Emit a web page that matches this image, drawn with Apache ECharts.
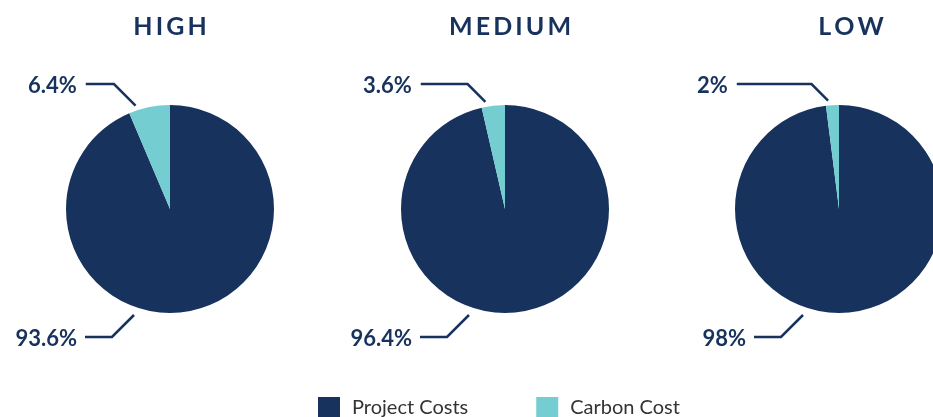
<!DOCTYPE html>
<html>
<head>
<meta charset="utf-8">
<script src="https://cdn.jsdelivr.net/npm/echarts@6/dist/echarts.min.js"></script>
<style>
  html, body { margin: 0; padding: 0; background: #ffffff; }
  #chart { width: 933px; height: 417px; }
</style>
</head>
<body>
<div id="chart"></div>
<script>
// Cost split per carbon-price scenario
const scenarios = ['HIGH', 'MEDIUM', 'LOW'];
const categories = ['Project Costs', 'Carbon Cost'];
const projectShare = [93.6, 96.4, 98];
const carbonShare = [6.4, 3.6, 2];

// Layout and style
const NAVY = '#17325c';
const TEAL = '#74cdd1';
const centersX = [170, 505, 839];
const titleX = [165, 505, 846];
const CY = 209;
const R = 104;
const FONT = 'Lato, "Open Sans", sans-serif';

const spaced = s => s.split('').join('\u2009');

const chart = echarts.init(document.getElementById('chart'), null, { renderer: 'canvas' });

// Leader lines: a short 45° stroke off the slice, then a horizontal run to the label
function layoutLabel(params) {
  const cx = centersX[params.seriesIndex];
  const w = params.labelRect.width;
  if (params.dataIndex === 1) {
    // Carbon slice: anchor inside its angular span, label above-left
    const sliceDeg = carbonShare[params.seriesIndex] / 100 * 360;
    const a = (sliceDeg * 0.8) * Math.PI / 180;
    const ex = cx - Math.sin(a) * (R + 5);
    const ey = CY - Math.cos(a) * (R + 5);
    const lineY = CY - 125;
    const elbowX = ex - (ey - lineY);
    const labelX = cx - 142;
    return {
      x: labelX, y: lineY + 2, align: 'left', verticalAlign: 'middle',
      labelLinePoints: [[ex, ey], [elbowX, lineY], [labelX + w + 9, lineY]]
    };
  }
  // Project slice: label below-left
  const ex = cx - 36, ey = CY + 106;
  const lineY = CY + 128;
  const elbowX = ex - (lineY - ey);
  const labelRight = cx - 93;
  return {
    x: labelRight, y: lineY + 2, align: 'right', verticalAlign: 'middle',
    labelLinePoints: [[ex, ey], [elbowX, lineY], [labelRight + 8, lineY]]
  };
}

const series = scenarios.map((name, i) => ({
  name: name,
  type: 'pie',
  center: [centersX[i], CY],
  radius: [0, R],
  startAngle: 90,
  clockwise: true,
  silent: true,
  animation: false,
  emphasis: { disabled: true },
  itemStyle: { borderWidth: 0 },
  label: {
    show: true,
    position: 'outer',
    alignTo: 'none',
    overflow: 'none',
    formatter: p => p.value + '%',
    color: NAVY,
    fontFamily: FONT,
    fontWeight: 'bold',
    fontSize: 22
  },
  labelLine: {
    show: true,
    lineStyle: { color: NAVY, width: 2.5 }
  },
  labelLayout: layoutLabel,
  data: [
    { name: categories[0], value: projectShare[i], itemStyle: { color: NAVY } },
    { name: categories[1], value: carbonShare[i], itemStyle: { color: TEAL } }
  ]
}));

chart.setOption({
  backgroundColor: '#ffffff',
  animation: false,
  title: scenarios.map((s, i) => ({
    text: spaced(s),
    left: titleX[i],
    top: 9,
    textAlign: 'center',
    textStyle: { color: NAVY, fontFamily: FONT, fontWeight: 'bold', fontSize: 25 }
  })),
  legend: {
    data: categories,
    left: 318,
    top: 397,
    padding: 0,
    itemWidth: 22,
    itemHeight: 21,
    itemGap: 68,
    icon: 'rect',
    selectedMode: false,
    textStyle: { color: '#333333', fontFamily: FONT, fontSize: 20, padding: [0, 0, 0, 7] }
  },
  series: series
});
</script>
</body>
</html>
